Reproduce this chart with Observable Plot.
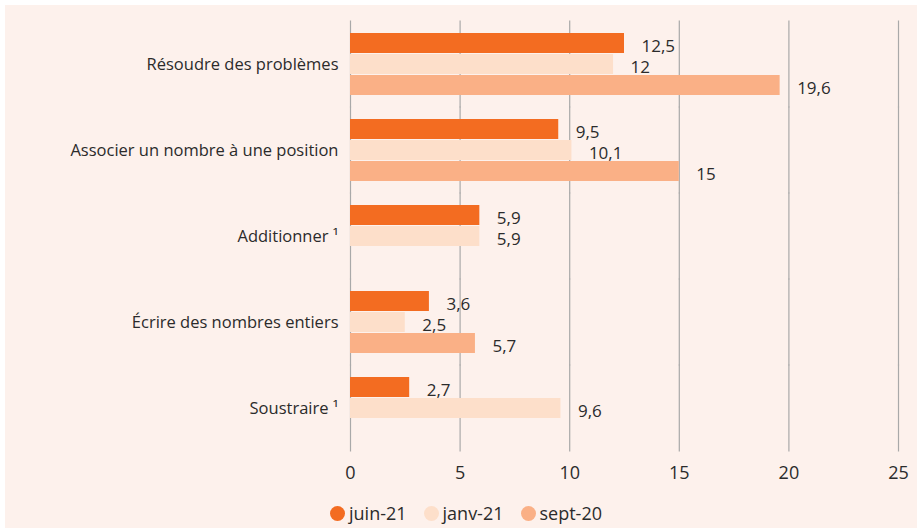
<!DOCTYPE html>
<html>
<head>
<meta charset="utf-8">
<script src="https://cdn.jsdelivr.net/npm/d3@7"></script>
<script src="https://cdn.jsdelivr.net/npm/@observablehq/plot@0.6"></script>
<style>
  html, body { margin: 0; padding: 0; background: #ffffff; }
  #wrap { position: absolute; left: 5px; top: 5px; width: 912px; height: 523px; background: #fdf1ec; font-family: "Open Sans", sans-serif; color: #2b2b2b; }
  #legend { position: absolute; left: 325px; top: 496px; display: flex; align-items: center; font-size: 18px; }
  .item { display: flex; align-items: center; margin-right: 17px; }
  .dot { width: 15px; height: 15px; border-radius: 50%; margin-right: 4px; }
</style>
</head>
<body>
<div id="wrap"><div id="chart"></div><div id="legend"></div></div>
<script>
const categories = ["Résoudre des problèmes", "Associer un nombre à une position", "Additionner ¹", "Écrire des nombres entiers", "Soustraire ¹"];
const series = ["juin-21", "janv-21", "sept-20"];
const juin21 = [12.5, 9.5, 5.9, 3.6, 2.7];
const janv21 = [12, 10.1, 5.9, 2.5, 9.6];
const sept20 = [19.6, 15, null, 5.7, null];
const xTicks = [0, 5, 10, 15, 20, 25];
const colors = ["#f36c21", "#fddfca", "#fab086"];

const valuesBySeries = [juin21, janv21, sept20];
const data = [];
categories.forEach((c, i) => {
  series.forEach((s, j) => {
    const v = valuesBySeries[j][i];
    if (v != null) data.push({category: c, series: s, value: v});
  });
});
const fmt = v => String(v).replace(".", ",");
const lastCat = categories[categories.length - 1];

const chart = Plot.plot({
  width: 912,
  height: 490,
  marginLeft: 345,
  marginRight: 19,
  marginTop: 16,
  marginBottom: 43,
  style: {fontFamily: "'Open Sans', sans-serif", color: "#2b2b2b", background: "transparent"},
  x: {domain: [0, 25], axis: null},
  y: {domain: series, axis: null, paddingInner: 0.04, paddingOuter: 0},
  fy: {domain: categories, paddingInner: 0.255, paddingOuter: 0.126, label: null},
  color: {domain: series, range: colors},
  marks: [
    Plot.ruleX(xTicks, {x: d => d, stroke: "#a9a9a9", strokeWidth: 1.2, insetTop: -11.5, insetBottom: -11.5}),
    Plot.barX(data, {fy: "category", y: "series", x: "value", fill: "series"}),
    Plot.text(data, {fy: "category", y: "series", x: "value", text: d => fmt(d.value), textAnchor: "start", dx: 17, dy: 3, fontSize: 17, fill: "#2b2b2b"}),
    Plot.text(xTicks, {x: d => d, fy: () => lastCat, text: d => String(d), frameAnchor: "bottom", dy: 38, fontSize: 18, fill: "#2b2b2b"}),
    Plot.axisFy({anchor: "left", tickSize: 0, tickPadding: 12, fontSize: 16.5, label: null, fill: "#2b2b2b"})
  ]
});
document.getElementById("chart").appendChild(chart);

const legend = document.getElementById("legend");
series.forEach((s, i) => {
  const item = document.createElement("div");
  item.className = "item";
  const dot = document.createElement("span");
  dot.className = "dot";
  dot.style.background = colors[i];
  const label = document.createElement("span");
  label.textContent = s;
  item.appendChild(dot);
  item.appendChild(label);
  legend.appendChild(item);
});
</script>
</body>
</html>
